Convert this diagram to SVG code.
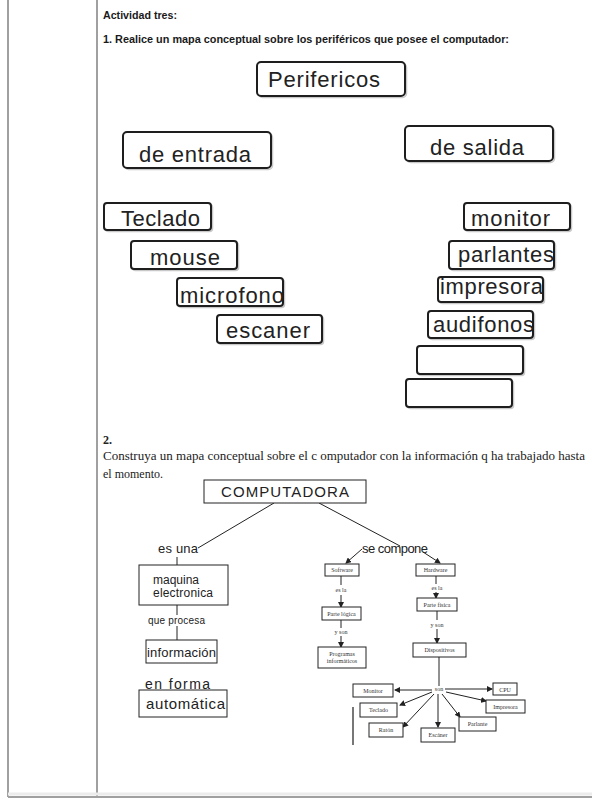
<svg xmlns="http://www.w3.org/2000/svg" width="592" height="804" viewBox="0 0 592 804">
<defs>
<style>
.frame{stroke:#a0a0a0;stroke-width:2;fill:none}
.rb{fill:#fff;stroke:#1e1e1e;stroke-width:2}
.sh{fill:none;stroke:#c8c8c8;stroke-width:1.5}
.bt{font-family:"Liberation Sans",Arial,sans-serif;font-size:22px;fill:#222}
.hd{font-family:"Liberation Sans",Arial,sans-serif;font-size:11px;font-weight:bold;fill:#1a1a1a}
.ser{font-family:"Liberation Serif","Times New Roman",serif;font-size:12px;fill:#222}
.sq{fill:#fff;stroke:#222;stroke-width:1}
.st{font-family:"Liberation Sans",Arial,sans-serif;fill:#222}
.tiny{font-family:"Liberation Serif","Times New Roman",serif;font-size:6px;fill:#333;text-anchor:middle}
.ln{stroke:#222;stroke-width:1;fill:none}
.ar{stroke:#222;stroke-width:1;fill:none;marker-end:url(#ah)}
</style>
<marker id="ah" markerWidth="6" markerHeight="6" refX="5" refY="3" orient="auto" markerUnits="userSpaceOnUse">
<path d="M0,0 L6,3 L0,6 z" fill="#222"/>
</marker>
</defs>
<rect width="592" height="804" fill="#fff"/>
<g id="frame">
<line class="frame" x1="8" y1="0" x2="8" y2="797"/>
<line class="frame" x1="97" y1="0" x2="97" y2="797"/>
<line x1="8" y1="794" x2="592" y2="794" stroke="#ececec" stroke-width="3"/>
<line class="frame" x1="8" y1="797" x2="592" y2="797"/>
</g>
<g id="headings">
<text class="hd" x="103" y="19" textLength="74" lengthAdjust="spacingAndGlyphs">Actividad tres:</text>
<text class="hd" x="103" y="43" textLength="406" lengthAdjust="spacingAndGlyphs">1. Realice un mapa conceptual sobre  los periféricos que posee  el computador:</text>
<text class="ser" x="103" y="444" font-size="11" font-weight="bold">2.</text>
<text class="ser" x="103" y="460" textLength="482" lengthAdjust="spacingAndGlyphs">Construya  un mapa conceptual  sobre el c omputador  con la  información  q ha trabajado hasta</text>
<text class="ser" x="103" y="478">el momento.</text>
</g>
<g id="map1">
<g id="perifericos"><rect class="sh" x="258.5" y="63.5" width="148" height="34" rx="4"/><rect class="rb" x="257" y="62" width="148" height="34" rx="4"/><text class="bt" x="268" y="87" textLength="112">Perifericos</text></g>
<g id="de-entrada"><rect class="sh" x="124.5" y="133.5" width="148" height="36" rx="4"/><rect class="rb" x="123" y="132" width="148" height="36" rx="4"/><text class="bt" x="139" y="162" textLength="112">de entrada</text></g>
<g id="de-salida"><rect class="sh" x="406.5" y="127.5" width="148" height="35" rx="4"/><rect class="rb" x="405" y="126" width="148" height="35" rx="4"/><text class="bt" x="430" y="155" textLength="94">de salida</text></g>
<g id="teclado"><rect class="sh" x="105.5" y="204.5" width="107" height="27" rx="3"/><rect class="rb" x="104" y="203" width="107" height="27" rx="3"/><text class="bt" x="121" y="226" textLength="79">Teclado</text></g>
<g id="mouse"><rect class="sh" x="132.5" y="242.5" width="106" height="28" rx="3"/><rect class="rb" x="131" y="241" width="106" height="28" rx="3"/><text class="bt" x="150" y="265" textLength="70">mouse</text></g>
<g id="microfono"><rect class="sh" x="178.5" y="279.5" width="106" height="28" rx="3"/><rect class="rb" x="177" y="278" width="106" height="28" rx="3"/><text class="bt" x="180" y="303" textLength="104">microfono</text></g>
<g id="escaner"><rect class="sh" x="218.5" y="316.5" width="105" height="28" rx="3"/><rect class="rb" x="217" y="315" width="105" height="28" rx="3"/><text class="bt" x="226" y="338" textLength="84">escaner</text></g>
<g id="monitor"><rect class="sh" x="465.5" y="204.5" width="106" height="27" rx="3"/><rect class="rb" x="464" y="203" width="106" height="27" rx="3"/><text class="bt" x="471" y="226" textLength="79">monitor</text></g>
<g id="parlantes"><rect class="sh" x="450.5" y="242.5" width="105" height="28" rx="3"/><rect class="rb" x="449" y="241" width="105" height="28" rx="3"/><text class="bt" x="458" y="262" textLength="96">parlantes</text></g>
<g id="impresora"><rect class="sh" x="439.5" y="278.5" width="105" height="25" rx="3"/><rect class="rb" x="438" y="277" width="105" height="25" rx="3"/><text class="bt" x="440" y="294" textLength="103">impresora</text></g>
<g id="audifonos"><rect class="sh" x="429.5" y="312.5" width="105" height="27" rx="3"/><rect class="rb" x="428" y="311" width="105" height="27" rx="3"/><text class="bt" x="433" y="332" textLength="101">audifonos</text></g>
<g id="vacio1"><rect class="sh" x="418.5" y="347.5" width="106" height="28" rx="3"/><rect class="rb" x="417" y="346" width="106" height="28" rx="3"/></g>
<g id="vacio2"><rect class="sh" x="407.5" y="380.5" width="106" height="28" rx="3"/><rect class="rb" x="406" y="379" width="106" height="28" rx="3"/></g>
</g>
<g id="connectors">
<line class="ln" x1="274" y1="503" x2="198" y2="548"/>
<line class="ln" x1="319" y1="503" x2="400" y2="546"/>
<line class="ln" x1="177" y1="557" x2="177" y2="565"/>
<line class="ln" x1="177" y1="605" x2="177" y2="640"/>
<line class="ar" x1="362" y1="549" x2="346" y2="563"/>
<line class="ar" x1="423" y1="552" x2="440" y2="563"/>
<line class="ln" x1="341" y1="576" x2="341" y2="585"/>
<line class="ar" x1="341" y1="595" x2="341" y2="607"/>
<line class="ln" x1="341" y1="620" x2="341" y2="628"/>
<line class="ar" x1="341" y1="636" x2="341" y2="647"/>
<line class="ln" x1="436" y1="576" x2="436" y2="584"/>
<line class="ar" x1="436" y1="592" x2="436" y2="598"/>
<line class="ln" x1="437" y1="611" x2="437" y2="620"/>
<line class="ar" x1="437" y1="629" x2="437" y2="643"/>
<line class="ln" x1="439" y1="657" x2="439" y2="686"/>
<line class="ar" x1="432" y1="690" x2="395" y2="690"/>
<line class="ar" x1="445" y1="689" x2="492" y2="689"/>
<line class="ar" x1="432" y1="692" x2="400" y2="705"/>
<line class="ar" x1="446" y1="692" x2="486" y2="701"/>
<line class="ar" x1="434" y1="694" x2="403" y2="727"/>
<line class="ar" x1="438" y1="694" x2="438" y2="727"/>
<line class="ar" x1="442" y1="694" x2="460" y2="717"/>
<line x1="353" y1="707" x2="353" y2="745" stroke="#777" stroke-width="2"/>
</g>
<g id="map2">
<g id="computadora"><rect class="sq" x="204" y="480" width="162" height="23"/><text class="st" x="221" y="497" font-size="15" textLength="128">COMPUTADORA</text></g>
<g id="es-una"><text class="st" x="158" y="553" font-size="13" textLength="40">es una</text></g>
<g id="maquina"><rect class="sq" x="139" y="565" width="89" height="40"/><text class="st" x="153" y="584" font-size="12">maquina</text><text class="st" x="153" y="597" font-size="12" textLength="60">electronica</text></g>
<g id="que-procesa"><rect x="148" y="615" width="58" height="11" fill="#fff"/><text class="st" x="148" y="624" font-size="10" textLength="57">que procesa</text></g>
<g id="informacion"><rect class="sq" x="146" y="640" width="71" height="23"/><text class="st" x="147" y="657" font-size="13" textLength="69">información</text></g>
<g id="en-forma"><text class="st" x="145" y="689" font-size="14" textLength="65">en forma</text></g>
<g id="automatica"><rect class="sq" x="139" y="690" width="88" height="27"/><text class="st" x="146" y="709" font-size="15" textLength="79">automática</text></g>
<g id="se-compone"><text class="st" x="362" y="553" font-size="13" textLength="66">se compone</text></g>
<g id="software"><rect class="sq" x="325" y="564" width="34" height="12"/><text class="tiny" x="342" y="572">Software</text></g>
<g id="es-la-1"><text class="tiny" x="341" y="592">es la</text></g>
<g id="parte-logica"><rect class="sq" x="322" y="607" width="39" height="13"/><text class="tiny" x="341.5" y="615.5">Parte lógica</text></g>
<g id="y-son-1"><text class="tiny" x="341" y="634">y son</text></g>
<g id="programas"><rect class="sq" x="318" y="647" width="48" height="21"/><text class="tiny" x="342" y="656">Programas</text><text class="tiny" x="342" y="663">informáticos</text></g>
<g id="hardware"><rect class="sq" x="416" y="564" width="39" height="12"/><text class="tiny" x="435.5" y="572">Hardware</text></g>
<g id="es-la-2"><text class="tiny" x="437" y="590">es la</text></g>
<g id="parte-fisica"><rect class="sq" x="417" y="598" width="40" height="13"/><text class="tiny" x="437" y="606.5">Parte física</text></g>
<g id="y-son-2"><text class="tiny" x="437" y="627">y son</text></g>
<g id="dispositivos"><rect class="sq" x="413" y="643" width="53" height="14"/><text class="tiny" x="439.5" y="652">Dispositivos</text></g>
<g id="son"><text class="tiny" x="439" y="691" font-size="4">son</text></g>
<g id="monitor2"><rect class="sq" x="353" y="684" width="40" height="13"/><text class="tiny" x="373" y="693">Monitor</text></g>
<g id="cpu"><rect class="sq" x="493" y="683" width="24" height="12"/><text class="tiny" x="505" y="691.5">CPU</text></g>
<g id="teclado2"><rect class="sq" x="360" y="703" width="37" height="14"/><text class="tiny" x="378.5" y="712">Teclado</text></g>
<g id="impresora2"><rect class="sq" x="486" y="700" width="39" height="13"/><text class="tiny" x="505.5" y="709">Impresora</text></g>
<g id="raton"><rect class="sq" x="369" y="723" width="34" height="14"/><text class="tiny" x="386" y="732">Ratón</text></g>
<g id="escaner2"><rect class="sq" x="421" y="728" width="34" height="14"/><text class="tiny" x="438" y="737">Escáner</text></g>
<g id="parlante"><rect class="sq" x="459" y="717" width="37" height="14"/><text class="tiny" x="477.5" y="726">Parlante</text></g>
</g>
</svg>
